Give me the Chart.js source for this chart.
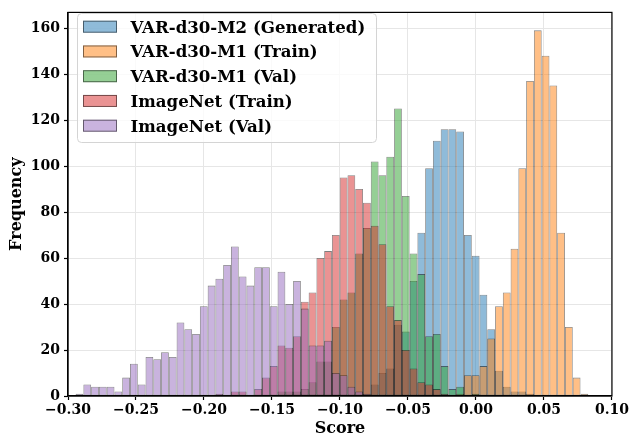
<!DOCTYPE html>
<html>
<head>
<meta charset="utf-8">
<script src="https://cdn.jsdelivr.net/npm/chart.js@4.4.0/dist/chart.umd.min.js"></script>
<style>
  html, body { margin: 0; padding: 0; background: #fff; }
</style>
</head>
<body>
<canvas id="histChart" width="631" height="441"></canvas>
<script>
// shared histogram bins (66 equal bins)
const binStart = -0.2944;
const binWidth = 0.005712;

const seriesLabels = ['VAR-d30-M2 (Generated)', 'VAR-d30-M1 (Train)', 'VAR-d30-M1 (Val)', 'ImageNet (Train)', 'ImageNet (Val)'];
const seriesColors = ['31,119,180', '255,127,14', '44,160,44', '214,39,40', '148,103,189'];

// counts per bin (index 0 = leftmost bin)
const countsGenerated = [
  0, 0, 0, 0, 0, 0, 0, 0, 0, 0,
  0, 0, 0, 0, 0, 0, 0, 0, 0, 0,
  0, 0, 0, 0, 0, 0, 0, 0, 0, 0,
  0, 0, 0, 0, 0, 0, 0, 0, 5, 10,
  12, 31, 28, 50, 71, 99, 111, 116, 116, 115,
  70, 61, 44, 29, 11, 4, 2, 2, 1, 0,
  0, 0, 0, 0, 0, 0
];
const countsM1Train = [
  0, 0, 0, 0, 0, 0, 0, 0, 0, 0,
  0, 0, 0, 0, 0, 0, 0, 0, 0, 0,
  0, 0, 0, 0, 0, 0, 0, 0, 0, 0,
  0, 0, 0, 0, 0, 0, 0, 0, 0, 0,
  0, 0, 0, 0, 0, 0, 0, 0, 0, 1,
  9, 9, 13, 25, 39, 45, 64, 99, 137, 159,
  148, 135, 71, 30, 8, 1
];
const countsM1Val = [
  0, 0, 0, 0, 0, 0, 0, 0, 0, 0,
  0, 0, 0, 0, 0, 0, 0, 0, 0, 0,
  0, 0, 0, 0, 0, 0, 2, 2, 2, 3,
  6, 15, 15, 30, 42, 45, 62, 73, 102, 96,
  104, 125, 87, 62, 53, 26, 27, 13, 3, 4,
  0, 1, 0, 0, 0, 0, 0, 0, 0, 0,
  0, 0, 0, 0, 0, 0
];
const countsImageNetTrain = [
  0, 0, 0, 0, 0, 0, 0, 0, 0, 0,
  0, 0, 0, 0, 0, 0, 0, 0, 1, 0,
  2, 2, 0, 3, 8, 13, 22, 21, 26, 41,
  45, 60, 63, 70, 95, 96, 90, 84, 74, 66,
  39, 33, 20, 12, 6, 5, 3, 1, 0, 0,
  0, 0, 0, 0, 0, 0, 0, 0, 0, 0,
  0, 0, 0, 0, 0, 0
];
const countsImageNetVal = [
  1, 5, 4, 4, 4, 2, 8, 14, 5, 17,
  16, 19, 17, 32, 29, 27, 39, 48, 51, 57,
  65, 52, 48, 56, 56, 39, 54, 40, 50, 38,
  22, 22, 24, 10, 9, 4, 2, 1, 0, 0,
  0, 0, 0, 0, 0, 0, 0, 0, 0, 0,
  0, 0, 0, 0, 0, 0, 0, 0, 0, 0,
  0, 0, 0, 0, 0, 0
];
const allCounts = [countsGenerated, countsM1Train, countsM1Val, countsImageNetTrain, countsImageNetVal];

const binCenters = countsGenerated.map((_, i) => binStart + (i + 0.5) * binWidth);

const fontFamily = '"DejaVu Serif", serif';

// matplotlib draws later series on top -> give later datasets a lower order
const datasets = allCounts.map((counts, s) => ({
  label: seriesLabels[s],
  data: counts.map((c, i) => ({ x: binCenters[i], y: c })),
  backgroundColor: 'rgba(' + seriesColors[s] + ',0.5)',
  borderColor: 'rgba(0,0,0,0.5)',
  borderWidth: 0.8,
  borderSkipped: false,
  inflateAmount: 0,
  grouped: false,
  barPercentage: 1,
  categoryPercentage: 1,
  order: allCounts.length - s
}));

// top/right spines
const framePlugin = {
  id: 'frame',
  afterDatasetsDraw(chart) {
    const { ctx, chartArea: a } = chart;
    ctx.save();
    ctx.strokeStyle = '#000';
    ctx.lineWidth = 1.2;
    ctx.strokeRect(a.left, a.top, a.right - a.left, a.bottom - a.top);
    ctx.restore();
  }
};

// boxed legend in the upper left, like matplotlib's
const legendPlugin = {
  id: 'boxedLegend',
  afterDraw(chart) {
    const ctx = chart.ctx;
    const x0 = 77, y0 = 13, w = 299, h = 129;
    ctx.save();
    ctx.beginPath();
    ctx.roundRect(x0 + 0.5, y0 + 0.5, w, h, 4);
    ctx.fillStyle = 'rgba(255,255,255,0.8)';
    ctx.fill();
    ctx.strokeStyle = '#d4d4d4';
    ctx.lineWidth = 1;
    ctx.stroke();
    ctx.font = 'bold 16.6px ' + fontFamily;
    ctx.textBaseline = 'alphabetic';
    chart.data.datasets.forEach((ds, i) => {
      const rowY = y0 + 7.7 + i * 24.75;
      ctx.fillStyle = ds.backgroundColor;
      ctx.fillRect(83, rowY, 34, 12);
      ctx.strokeStyle = ds.borderColor;
      ctx.strokeRect(83.5, rowY + 0.5, 33, 11);
      ctx.fillStyle = '#000';
      ctx.fillText(ds.label, 130.5, rowY + 12);
    });
    ctx.restore();
  }
};

const fmtTick = v => {
  if (Math.abs(v) < 1e-9) v = 0;
  return v.toFixed(2).replace('-', '\u2212');
};

new Chart(document.getElementById('histChart'), {
  type: 'bar',
  data: { datasets },
  options: {
    responsive: false,
    animation: false,
    layout: { autoPadding: false, padding: { left: 0, top: 4, right: 17, bottom: 0 } },
    plugins: { legend: { display: false }, tooltip: { enabled: false } },
    scales: {
      x: {
        type: 'linear',
        min: -0.3,
        max: 0.1,
        offset: false,
        grid: { offset: false, color: '#e6e6e6', lineWidth: 1, tickColor: '#000', tickLength: 4, tickWidth: 1.2 },
        border: { display: true, color: '#000', width: 1.2 },
        ticks: {
          stepSize: 0.05,
          includeBounds: false,
          maxRotation: 0,
          autoSkip: false,
          padding: 2,
          color: '#000',
          font: { family: fontFamily, size: 14, weight: 'bold' },
          callback: fmtTick
        },
        title: {
          display: true,
          text: 'Score',
          color: '#000',
          font: { family: fontFamily, size: 16, weight: 'bold', lineHeight: 1 },
          padding: { top: 0, bottom: 4 }
        },
        afterFit: s => { s.height = 45; }
      },
      y: {
        min: 0,
        max: 166.8,
        grid: { color: '#e6e6e6', lineWidth: 1, tickColor: '#000', tickLength: 4, tickWidth: 1.2 },
        border: { display: true, color: '#000', width: 1.2 },
        ticks: {
          stepSize: 20,
          includeBounds: false,
          padding: 4,
          color: '#000',
          font: { family: fontFamily, size: 14, weight: 'bold' }
        },
        title: {
          display: true,
          text: 'Frequency',
          color: '#000',
          font: { family: fontFamily, size: 16, weight: 'bold', lineHeight: 1 },
          padding: { top: 9, bottom: 0 }
        },
        afterFit: s => { s.width = 68; }
      }
    }
  },
  plugins: [framePlugin, legendPlugin]
});
</script>
</body>
</html>
